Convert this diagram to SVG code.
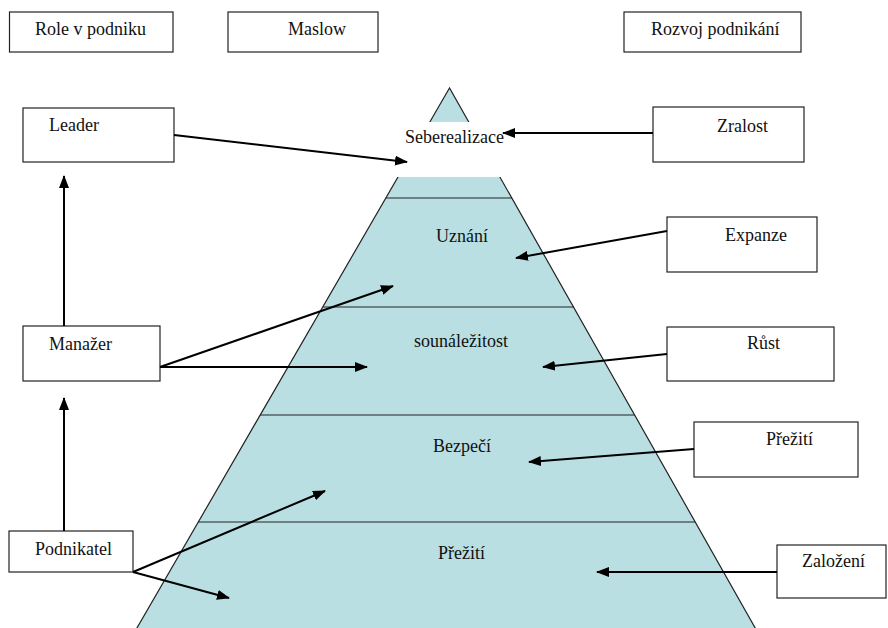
<svg xmlns="http://www.w3.org/2000/svg" width="888" height="628" viewBox="0 0 888 628">
<style>
.box{fill:#fff;stroke:#222;stroke-width:1.2}
.t{font-family:'Liberation Serif','DejaVu Serif','Times New Roman',serif;font-size:18px;fill:#111}
.c{stroke:#000;stroke-width:2;fill:none;marker-end:url(#ah)}
.band{stroke:#222;stroke-width:1.2}
</style>
<defs>
<marker id="ah" markerUnits="userSpaceOnUse" markerWidth="14" markerHeight="10" refX="12" refY="5" orient="auto">
<path d="M0,0 L13,5 L0,10 z" fill="#000"/>
</marker>
</defs>
<rect width="888" height="628" fill="#fff"/>
<g id="pyramid">
<polygon points="449.5,88 130,640 762,640" fill="#b9dfe2" stroke="#222" stroke-width="1.2"/>
<line class="band" x1="386" y1="198" x2="512" y2="198"/>
<line class="band" x1="323" y1="307" x2="574" y2="307"/>
<line class="band" x1="260" y1="415" x2="635" y2="415"/>
<line class="band" x1="198" y1="522" x2="695" y2="522"/>
<rect x="375" y="122" width="150" height="55" fill="#fff"/>
<text class="t" font-family="Liberation Serif, serif" x="405" y="143">Seberealizace</text>
<text class="t" font-family="Liberation Serif, serif" x="436" y="242">Uznání</text>
<text class="t" font-family="Liberation Serif, serif" x="414" y="347">sounáležitost</text>
<text class="t" font-family="Liberation Serif, serif" x="433" y="452">Bezpečí</text>
<text class="t" font-family="Liberation Serif, serif" x="438" y="559">Přežití</text>
</g>
<g id="role"><rect class="box" x="9.5" y="12" width="163.5" height="40"/><text class="t" x="35" y="35">Role v podniku</text></g>
<g id="maslow"><rect class="box" x="228" y="12" width="150" height="40"/><text class="t" x="288" y="35">Maslow</text></g>
<g id="rozvoj"><rect class="box" x="624" y="12" width="177" height="40"/><text class="t" x="651" y="35">Rozvoj podnikání</text></g>
<g id="leader"><rect class="box" x="23" y="108" width="151" height="54"/><text class="t" x="49" y="131">Leader</text></g>
<g id="zralost"><rect class="box" x="653" y="107" width="151" height="55"/><text class="t" x="717" y="132">Zralost</text></g>
<g id="expanze"><rect class="box" x="667" y="217" width="150" height="55"/><text class="t" x="725" y="241">Expanze</text></g>
<g id="manazer"><rect class="box" x="23" y="326" width="137" height="55"/><text class="t" x="49" y="350">Manažer</text></g>
<g id="rust"><rect class="box" x="667" y="327" width="167" height="54"/><text class="t" x="747" y="349">Růst</text></g>
<g id="preziti"><rect class="box" x="694" y="422" width="164" height="55"/><text class="t" x="766" y="445">Přežití</text></g>
<g id="podnikatel"><rect class="box" x="9" y="531" width="124" height="41"/><text class="t" x="35" y="555">Podnikatel</text></g>
<g id="zalozeni"><rect class="box" x="777" y="545" width="109" height="53"/><text class="t" x="802" y="567">Založení</text></g>
<g id="connectors">
<line class="c" x1="174" y1="135" x2="407" y2="162"/>
<line class="c" x1="653" y1="133" x2="503" y2="133"/>
<line class="c" x1="667" y1="231" x2="516" y2="258"/>
<line class="c" x1="667" y1="354" x2="543" y2="367"/>
<line class="c" x1="694" y1="449" x2="529" y2="462"/>
<line class="c" x1="777" y1="572" x2="597" y2="572"/>
<line class="c" x1="160" y1="367" x2="393" y2="286"/>
<line class="c" x1="160" y1="367" x2="367" y2="367"/>
<line class="c" x1="133" y1="572" x2="325" y2="491"/>
<line class="c" x1="133" y1="572" x2="229" y2="598"/>
<line class="c" x1="64" y1="326" x2="64" y2="176"/>
<line class="c" x1="64" y1="531" x2="64" y2="398"/>
</g>
</svg>
